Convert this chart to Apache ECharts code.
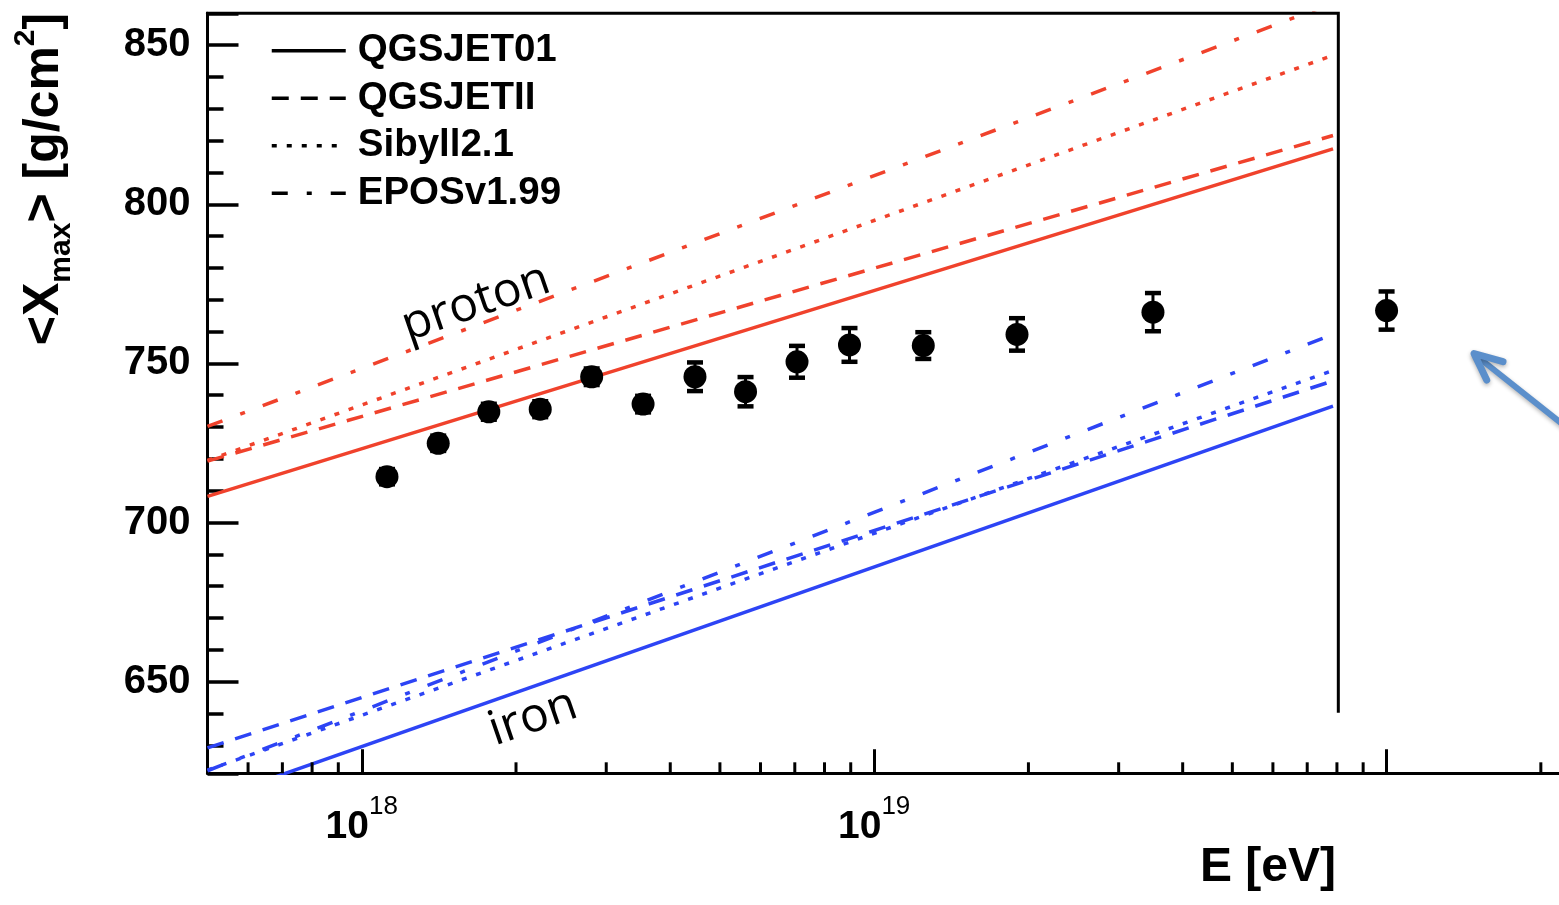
<!DOCTYPE html>
<html><head><meta charset="utf-8">
<script src="https://cdn.jsdelivr.net/npm/echarts@6/dist/echarts.min.js"></script>
<style>html,body{margin:0;padding:0;background:#fff}#c{width:1559px;height:905px}</style>
</head><body><div id="c"></div>
<script>
// ---------------- data ----------------
const energyEV = [1.12e18, 1.41e18, 1.77e18, 2.23e18, 2.81e18, 3.54e18, 4.47e18, 5.61e18, 7.07e18, 8.95e18, 1.247e19, 1.90e19, 3.50e19, 1.0e20];
const xmaxMean = [714.4, 724.9, 734.8, 735.6, 745.8, 737.2, 745.8, 741.1, 750.5, 755.8, 755.6, 759.1, 766.1, 766.6];
const xmaxErr  = [2.4, 2.4, 2.5, 2.5, 2.6, 2.6, 4.5, 4.6, 5.0, 5.3, 4.2, 5.1, 6.0, 6.0];

const modelNames = ['QGSJET01', 'QGSJETII', 'Sibyll2.1', 'EPOSv1.99'];
const lineEnergy = [5e17, 7.86e19];
const protonQGSJET01 = [708.2, 817.4];
const protonQGSJETII = [719.3, 821.6];
const protonSibyll   = [719.5, 846.8];
const protonEPOS     = [730.2, 863.2];
const ironQGSJET01   = [612.6, 736.6];
const ironQGSJETII   = [629.2, 744.5];
const ironSibyll     = [622.2, 747.8];
const ironEPOS       = [622.0, 759.1];

const xAxisMin = 5e17, xAxisMax = 2.17e20;
const yAxisMin = 621.2, yAxisMax = 860;
const xMinorTicks = [6e17, 7e17, 8e17, 9e17, 2e18, 3e18, 4e18, 5e18, 6e18, 7e18, 8e18, 9e18,
                     2e19, 3e19, 4e19, 5e19, 6e19, 7e19, 8e19, 9e19, 2e20];
const labeledDecades = [18, 19];
const frameRightEnergy = 8.05e19, frameBottomXmax = 640.2;

// ---------------- styles ----------------
const RED = '#F0422C', BLUE = '#2D44F5';
const FONT = 'Liberation Sans';
const LW = 3.5;
const dashes = ['solid', [17, 12], [5, 10], [16, 19, 5, 19]];
const protonSets = [protonQGSJET01, protonQGSJETII, protonSibyll, protonEPOS];
const ironSets = [ironQGSJET01, ironQGSJETII, ironSibyll, ironEPOS];

const toPairs = arr => lineEnergy.map((e, i) => [e, arr[i]]);
const series = [];

modelNames.forEach((n, i) => {
  series.push({ type: 'line', name: n, data: [], symbol: 'none', silent: true,
    lineStyle: { color: '#000', width: LW, type: dashes[i] }, itemStyle: { color: '#000', opacity: 0 } });
});
protonSets.forEach((arr, i) => {
  series.push({ type: 'line', name: 'proton ' + modelNames[i], data: toPairs(arr), symbol: 'none', silent: true, z: 3,
    lineStyle: { color: RED, width: LW, type: dashes[i] }, itemStyle: { color: RED } });
});
ironSets.forEach((arr, i) => {
  series.push({ type: 'line', name: 'iron ' + modelNames[i], data: toPairs(arr), symbol: 'none', silent: true, z: 3,
    lineStyle: { color: BLUE, width: LW, type: dashes[i] }, itemStyle: { color: BLUE } });
});

// error bars
series.push({ type: 'custom', name: 'errors', silent: true, z: 4,
  data: energyEV.map((e, i) => [e, xmaxMean[i], xmaxErr[i]]),
  renderItem: (params, api) => {
    const e = api.value(0), v = api.value(1), d = api.value(2);
    const lo = api.coord([e, v - d]), hi = api.coord([e, v + d]);
    const w = 8;
    return { type: 'group', children: [
      { type: 'line', shape: { x1: lo[0], y1: lo[1], x2: hi[0], y2: hi[1] }, style: { stroke: '#000', lineWidth: 3 } },
      { type: 'line', shape: { x1: lo[0] - w, y1: lo[1], x2: lo[0] + w, y2: lo[1] }, style: { stroke: '#000', lineWidth: 4.5 } },
      { type: 'line', shape: { x1: hi[0] - w, y1: hi[1], x2: hi[0] + w, y2: hi[1] }, style: { stroke: '#000', lineWidth: 4.5 } }
    ]};
  }
});
// data points
series.push({ type: 'scatter', name: 'data', silent: true, z: 5, symbol: 'circle', symbolSize: 23,
  itemStyle: { color: '#000', opacity: 1 }, data: energyEV.map((e, i) => [e, xmaxMean[i]]) });

// x minor ticks
series.push({ type: 'custom', name: 'xminor', silent: true, z: 6,
  data: xMinorTicks.map(v => [v, yAxisMin]),
  renderItem: (params, api) => {
    const p = api.coord([api.value(0), api.value(1)]);
    return { type: 'line', shape: { x1: p[0], y1: p[1], x2: p[0], y2: p[1] - 11 }, style: { stroke: '#000', lineWidth: 3 } };
  }
});
// frame (top and right border of the original plot)
series.push({ type: 'custom', name: 'frame', silent: true, z: 6,
  data: [[frameRightEnergy, yAxisMax, frameBottomXmax]],
  renderItem: (params, api) => {
    const a = api.coord([xAxisMin, api.value(1)]);
    const b = api.coord([api.value(0), api.value(1)]);
    const c = api.coord([api.value(0), api.value(2)]);
    return { type: 'polyline', shape: { points: [[a[0] - 1.5, a[1]], b, c] }, style: { stroke: '#000', lineWidth: 3, fill: null } };
  }
});

const chart = echarts.init(document.getElementById('c'), null, { renderer: 'canvas' });
chart.setOption({
  animation: false,
  backgroundColor: '#fff',
  grid: { left: 207.5, right: 0, top: 13.3, bottom: 131.7, containLabel: false },
  legend: {
    data: modelNames, orient: 'vertical', left: 270, top: 27, padding: 0,
    itemWidth: 74, itemHeight: 20, itemGap: 0, selectedMode: false,
    lineStyle: { width: 3.5 },
    textStyle: { fontSize: 38.5, fontWeight: 'bold', fontFamily: FONT, color: '#000', lineHeight: 47.5, padding: [0, 0, 0, 7] }
  },
  xAxis: {
    type: 'log', logBase: 10, min: xAxisMin, max: xAxisMax,
    axisLine: { lineStyle: { color: '#000', width: 3 } },
    axisTick: { inside: true, length: 24, lineStyle: { color: '#000', width: 3 } },
    splitLine: { show: false },
    axisLabel: {
      showMinLabel: false, showMaxLabel: false, margin: 21,
      formatter: v => { const e = Math.round(Math.log10(v)); return labeledDecades.includes(e) ? '{b|10}{s|' + e + '}' : ''; },
      rich: {
        b: { fontSize: 39, fontWeight: 'bold', fontFamily: FONT, color: '#000', lineHeight: 52, verticalAlign: 'bottom' },
        s: { fontSize: 26, fontFamily: FONT, color: '#000', lineHeight: 14, verticalAlign: 'top' }
      }
    }
  },
  yAxis: {
    type: 'value', min: yAxisMin, max: yAxisMax,
    axisLine: { lineStyle: { color: '#000', width: 3 } },
    axisTick: { inside: true, length: 31, lineStyle: { color: '#000', width: 3.5 } },
    minorTick: { show: true, splitNumber: 5, length: 16, lineStyle: { color: '#000', width: 3.5 } },
    splitLine: { show: false }, minorSplitLine: { show: false },
    axisLabel: { showMinLabel: false, showMaxLabel: false, margin: 17, fontSize: 40, fontWeight: 'bold', fontFamily: FONT, color: '#000' }
  },
  graphic: [
    { type: 'text', x: 44, y: 179, rotation: Math.PI / 2, silent: true,
      style: { text: '{m|<X}{sub|max}{m|> [g/cm}{sup|2}{m|]}', align: 'center', verticalAlign: 'middle',
        rich: {
          m: { fontSize: 50, fontWeight: 'bold', fontFamily: FONT, fill: '#000', lineHeight: 66, verticalAlign: 'middle' },
          sub: { fontSize: 30, fontWeight: 'bold', fontFamily: FONT, fill: '#000', lineHeight: 36, verticalAlign: 'bottom' },
          sup: { fontSize: 30, fontWeight: 'bold', fontFamily: FONT, fill: '#000', lineHeight: 30, verticalAlign: 'top' }
        } } },
    { type: 'text', x: 1336, y: 868, silent: true,
      style: { text: 'E [eV]', align: 'right', verticalAlign: 'middle', fontSize: 48, fontWeight: 'bold', fontFamily: FONT, fill: '#000' } },
    { type: 'text', x: 476, y: 303, rotation: 19 * Math.PI / 180, silent: true,
      style: { text: 'proton', align: 'center', verticalAlign: 'middle', fontSize: 48, fontFamily: 'Open Sans', fill: '#000' } },
    { type: 'text', x: 533, y: 718, rotation: 19 * Math.PI / 180, silent: true,
      style: { text: 'iron', align: 'center', verticalAlign: 'middle', fontSize: 48, fontFamily: 'Open Sans', fill: '#000' } },
    { type: 'group', silent: true, children: [
      { type: 'line', shape: { x1: 1575, y1: 434, x2: 1476, y2: 355.5 },
        style: { stroke: '#5B8FCB', lineWidth: 6, lineCap: 'round', shadowBlur: 4, shadowColor: 'rgba(0,0,0,0.3)', shadowOffsetY: 2 } },
      { type: 'polyline', shape: { points: [[1503, 361.7], [1474, 353.5], [1486.7, 380]] },
        style: { stroke: '#5B8FCB', lineWidth: 7, lineCap: 'round', lineJoin: 'round', fill: null, shadowBlur: 4, shadowColor: 'rgba(0,0,0,0.3)', shadowOffsetY: 2 } }
    ] }
  ],
  series: series
});
</script>
</body></html>
